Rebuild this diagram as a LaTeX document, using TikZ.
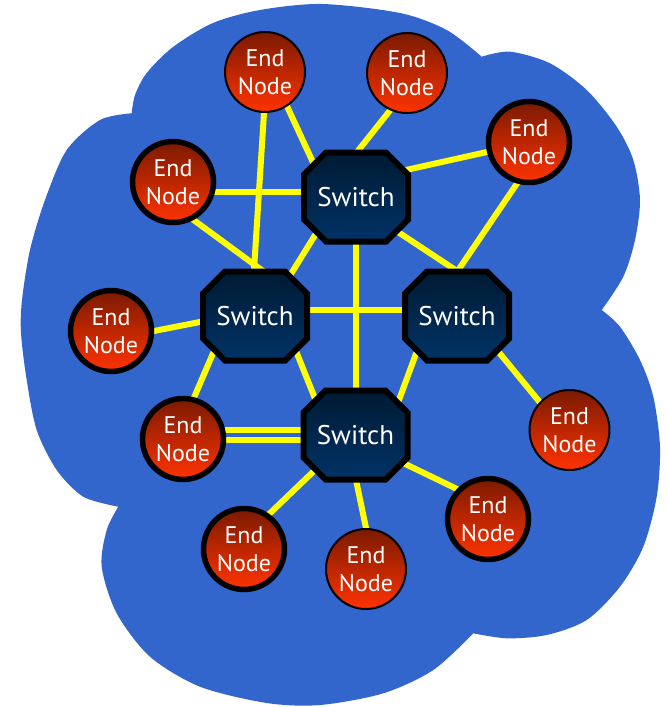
\documentclass[tikz,border=0pt]{standalone}
\usepackage{fontspec}
\newfontfamily\lblfont{PT Sans}
\usetikzlibrary{calc}
\definecolor{cloudblue}{RGB}{51,102,204}
\definecolor{linkyellow}{RGB}{255,255,0}
\definecolor{endtop}{RGB}{122,26,0}
\definecolor{endbot}{RGB}{255,51,0}
\definecolor{swtop}{RGB}{0,26,51}
\definecolor{swbot}{RGB}{0,51,102}
\pgfdeclarelayer{cloudlayer}
\pgfdeclarelayer{linklayer}
\pgfdeclarelayer{switchlayer}
\pgfsetlayers{cloudlayer,linklayer,switchlayer,main}
\tikzset{
  endnode/.style={circle, draw=black, top color=endtop, bottom color=endbot,
    minimum size=80pt, inner sep=0pt, outer sep=0pt, text=white, align=center,
    font={\lblfont\fontsize{24}{28}\selectfont}},
  thinring/.style={line width=2pt, minimum size=80pt},
  thickring/.style={line width=5.5pt, minimum size=81pt},
  switchnode/.style={rectangle, draw=none, minimum width=110pt, minimum height=95pt,
    inner sep=0pt, outer sep=0pt, text=white,
    font={\lblfont\fontsize{27}{31}\selectfont}},
  octagon/.style={line width=6pt, draw=black, top color=swtop, bottom color=swbot},
  link/.style={draw=linkyellow, line width=6pt, shorten <=-4pt, shorten >=-4pt},
  dlink/.style={draw=linkyellow, line width=5.5pt, shorten <=-4pt, shorten >=-4pt},
}
\begin{document}
\begin{tikzpicture}[x=1pt, y=-1pt]
\useasboundingbox (0,0) rectangle (668,707);

% switches
\node[switchnode] (st) at (356,197) {Switch};
\node[switchnode] (sl) at (255,316) {Switch};
\node[switchnode] (sr) at (457,316) {Switch};
\node[switchnode] (sb) at (355.5,435) {Switch};

% end nodes
\node[endnode,thinring]  (n1)  at (265,72)    {End\\Node};
\node[endnode,thinring]  (n2)  at (407,73)    {End\\Node};
\node[endnode,thickring] (n3)  at (529,142)   {End\\Node};
\node[endnode,thickring] (n4)  at (173,182)   {End\\Node};
\node[endnode,thickring] (n5)  at (111,331)   {End\\Node};
\node[endnode,thickring] (n6)  at (183,439)   {End\\Node};
\node[endnode,thinring]  (n7)  at (569.5,430) {End\\Node};
\node[endnode,thickring] (n8)  at (488,519)   {End\\Node};
\node[endnode,thickring] (n9)  at (244,549)   {End\\Node};
\node[endnode,thinring]  (n10) at (366,569)   {End\\Node};

\begin{pgfonlayer}{switchlayer}
\foreach \s in {st,sl,sr,sb}{
  \draw[octagon] ($(\s)+(-30,-44.5)$) -- ($(\s)+(30,-44.5)$) -- ($(\s)+(52,-22.5)$)
    -- ($(\s)+(52,22.5)$) -- ($(\s)+(30,44.5)$) -- ($(\s)+(-30,44.5)$)
    -- ($(\s)+(-52,22.5)$) -- ($(\s)+(-52,-22.5)$) -- cycle;
}
\end{pgfonlayer}

\begin{pgfonlayer}{cloudlayer}
\fill[white] (0,0) rectangle (668,707);
\fill[cloudblue]
  plot[smooth] coordinates {(131.7,113.3) (135,95) (146.7,73) (173,47) (213,23) (260,10) (322,4) (400,13) (446.7,30) (481.7,56.7)}
  -- plot[smooth] coordinates {(481.7,56.7) (510,51.7) (550,63.3) (586.7,90) (616.7,126.7) (633.3,160) (640,200) (635,240) (623.3,276.7) (601.7,310)}
  -- plot[smooth] coordinates {(601.7,310) (620,326.7) (640,360) (653.3,396.7) (660,446.7) (656.7,496.7) (643.3,546.7) (620,586.7) (586.7,620) (546.7,635) (506.7,638.3) (473.3,633.3)}
  -- plot[smooth] coordinates {(473.3,633.3) (433.3,670) (383.3,693.3) (320,705) (266.7,703) (200,686.7) (150,656.7) (116.7,613.3) (101.7,566.7) (106.7,530) (118.3,506.7)}
  -- plot[smooth] coordinates {(118.3,506.7) (83.3,496.7) (56.7,470) (36.7,430) (26.7,380) (21,333) (22,300) (30,250) (45,200) (66.7,150) (100,120) (131.7,113.3)}
  -- cycle;
\end{pgfonlayer}

\begin{pgfonlayer}{linklayer}
\draw[link] ($(n1)+(21,32)$)  -- ($(st)+(-39,-26)$);
\draw[link] ($(n1)+(-1,41)$)  -- ($(sl)+(-1,-46)$);
\draw[link] ($(n2)+(-19,40)$) -- ($(st)+(1,-45)$);
\draw[link] ($(n3)+(-42,10)$) -- ($(st)+(41,-25)$);
\draw[link] ($(n3)+(-11,40)$) -- ($(sr)+(0,-44)$);
\draw[link] ($(n4)+(41,10)$)  -- ($(st)+(-50,-5)$);
\draw[link] ($(n4)+(22,39)$)  -- ($(sl)+(8,-45)$);
\draw[link] ($(st)+(-39,35)$) -- ($(sl)+(31,-34)$);
\draw[link] ($(st)+(42,35)$)  -- ($(sr)+(0,-45)$);
\draw[link] ($(st)+(0,46)$)   -- ($(sb)+(0.5,-45)$);
\draw[link] ($(sl)+(53,-6)$)  -- ($(sr)+(-53,-6)$);
\draw[link] ($(n5)+(43,0)$)   -- ($(sl)+(-50,5)$);
\draw[link] ($(sl)+(-41,35)$) -- ($(n6)+(10,-39)$);
\draw[link] ($(sl)+(41,35)$)  -- ($(sb)+(-39.5,-34)$);
\draw[link] ($(sr)+(-40,35)$) -- ($(sb)+(43.5,-35)$);
\draw[link] ($(sr)+(40,34)$)  -- ($(n7)+(-31.5,-30)$);
\draw[dlink] ($(n6)+(41,-9)$) -- ($(sb)+(-51.5,-5)$);
\draw[dlink] ($(n6)+(41,1)$)  -- ($(sb)+(-51.5,5)$);
\draw[link] ($(sb)+(-40.5,35)$) -- ($(n9)+(21,-31)$);
\draw[link] ($(sb)+(0.5,45)$)   -- ($(n10)+(0,-41)$);
\draw[link] ($(sb)+(41.5,25)$)  -- ($(n8)+(-31,-30)$);
\end{pgfonlayer}
\end{tikzpicture}
\end{document}
